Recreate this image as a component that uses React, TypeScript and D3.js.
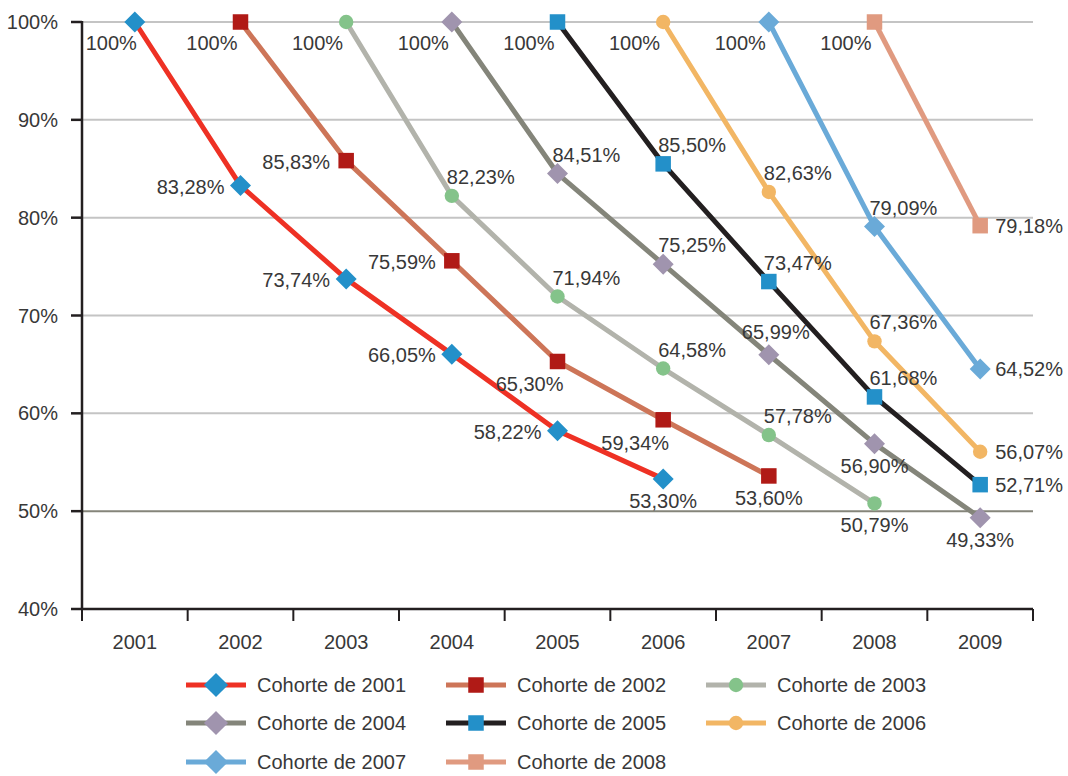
import React from "react";
import * as d3 from "d3";

const years = ["2001", "2002", "2003", "2004", "2005", "2006", "2007", "2008", "2009"];
const yTicks = [40, 50, 60, 70, 80, 90, 100];

const cohortNames = [
  "Cohorte de 2001", "Cohorte de 2002", "Cohorte de 2003", "Cohorte de 2004",
  "Cohorte de 2005", "Cohorte de 2006", "Cohorte de 2007", "Cohorte de 2008",
];
const cohortStart = ["2001", "2002", "2003", "2004", "2005", "2006", "2007", "2008"];

const c2001 = [100, 83.28, 73.74, 66.05, 58.22, 53.30];
const c2002 = [100, 85.83, 75.59, 65.30, 59.34, 53.60];
const c2003 = [100, 82.23, 71.94, 64.58, 57.78, 50.79];
const c2004 = [100, 84.51, 75.25, 65.99, 56.90, 49.33];
const c2005 = [100, 85.50, 73.47, 61.68, 52.71];
const c2006 = [100, 82.63, 67.36, 56.07];
const c2007 = [100, 79.09, 64.52];
const c2008 = [100, 79.18];
const cohortValues = [c2001, c2002, c2003, c2004, c2005, c2006, c2007, c2008];

// label placement codes per point
const p2001 = ["topFirst", "left", "left", "left", "left", "below"];
const p2002 = ["top", "left", "left", "belowLeft", "belowLeft", "below"];
const p2003 = ["top", "aboveRight", "aboveRight", "aboveRight", "aboveRight", "below"];
const p2004 = ["top", "aboveRight", "aboveRight", "aboveMid", "below", "below"];
const p2005 = ["top", "aboveRight", "aboveRight", "aboveRight", "right"];
const p2006 = ["top", "aboveRight", "aboveRight", "right"];
const p2007 = ["top", "aboveRight", "right"];
const p2008 = ["top", "right"];
const cohortPlacements = [p2001, p2002, p2003, p2004, p2005, p2006, p2007, p2008];

const lineColors = ["#ee3124", "#cd7558", "#b2b3ab", "#84857a", "#231f20", "#f2b664", "#6aaad8", "#e09a80"];
const markerColors = ["#2390c9", "#b01a16", "#84c38a", "#a094ae", "#2390c9", "#f2b664", "#6aaad8", "#e09a80"];
const markerShapes = ["diamond", "square", "circle", "diamond", "square", "circle", "diamond", "square"];

const placementStyle: Record<string, { anchor: string; dx: number; dy: number }> = {
  topFirst: { anchor: "end", dx: 2, dy: 28 },
  top: { anchor: "end", dx: -3, dy: 28 },
  left: { anchor: "end", dx: -16, dy: 8 },
  aboveRight: { anchor: "start", dx: -5, dy: -12 },
  aboveMid: { anchor: "start", dx: -27, dy: -16 },
  below: { anchor: "middle", dx: 0, dy: 29 },
  belowLeft: { anchor: "end", dx: 6, dy: 30 },
  right: { anchor: "start", dx: 15, dy: 7 },
};

const FONT = "'Liberation Sans', Arial, sans-serif";
const TEXT = "#383838";

function Marker({ shape, x, y, color, scale = 1 }: { shape: string; x: number; y: number; color: string; scale?: number }) {
  if (shape === "diamond") {
    const r = 10.5 * scale;
    return <path d={`M${x},${y - r}L${x + r},${y}L${x},${y + r}L${x - r},${y}Z`} fill={color} />;
  }
  if (shape === "square") {
    const s = 15.5 * scale;
    return <rect x={x - s / 2} y={y - s / 2} width={s} height={s} fill={color} />;
  }
  return <circle cx={x} cy={y} r={7.2 * scale} fill={color} />;
}

export default function App() {
  const W = 1068, H = 776;
  const left = 82, right = 1033, top = 22, bottom = 609;
  const x = d3.scaleBand<string>().domain(years).range([left, right]);
  const y = d3.scaleLinear().domain([40, 100]).range([bottom, top]);
  const cx = (yr: string) => (x(yr) as number) + x.bandwidth() / 2;
  const line = d3.line<[number, number]>().x((d) => d[0]).y((d) => d[1]);

  const series = cohortValues.map((vals, i) => {
    const startIdx = years.indexOf(cohortStart[i]);
    return vals.map((v, j) => [cx(years[startIdx + j]), y(v), v] as [number, number, number]);
  });

  const fmt = (v: number) => (v === 100 ? "100%" : v.toFixed(2).replace(".", ",") + "%");

  const boundaries = [...years.map((yr) => x(yr) as number), right];

  const legendCols = [186, 446, 706];
  const legendRows = [685, 723, 762];

  return (
    <svg width={W} height={H} style={{ position: "absolute", left: 0, top: 0, background: "#fff" }} fontFamily={FONT}>
      {yTicks.filter((t) => t > 40).map((t) => (
        <line key={t} x1={left} x2={right} y1={y(t)} y2={y(t)} stroke={t === 50 ? "#85857a" : "#c4c4c4"} strokeWidth={2} />
      ))}
      <line x1={left} x2={left} y1={top - 1} y2={bottom + 1} stroke="#231f20" strokeWidth={2.5} />
      {yTicks.map((t) => (
        <g key={t}>
          <line x1={71} x2={left} y1={y(t)} y2={y(t)} stroke="#231f20" strokeWidth={2.5} />
          <text x={58} y={y(t) + 7} textAnchor="end" fontSize={20} fill={TEXT}>{t}%</text>
        </g>
      ))}
      <line x1={left} x2={right} y1={bottom} y2={bottom} stroke="#231f20" strokeWidth={2.5} />
      {boundaries.map((b, i) => (
        <line key={i} x1={b} x2={b} y1={bottom} y2={bottom + 12} stroke="#231f20" strokeWidth={2} />
      ))}
      {years.map((yr) => (
        <text key={yr} x={cx(yr)} y={649} textAnchor="middle" fontSize={20} fill={TEXT}>{yr}</text>
      ))}
      {series.map((pts, i) => (
        <g key={i}>
          <path d={line(pts.map((p) => [p[0], p[1]]) as [number, number][]) || ""} fill="none" stroke={lineColors[i]} strokeWidth={5} strokeLinejoin="round" />
          {pts.map((p, j) => (
            <Marker key={j} shape={markerShapes[i]} x={p[0]} y={p[1]} color={markerColors[i]} />
          ))}
        </g>
      ))}
      {series.map((pts, i) =>
        pts.map((p, j) => {
          const st = placementStyle[cohortPlacements[i][j]];
          return (
            <text key={`${i}-${j}`} x={p[0] + st.dx} y={p[1] + st.dy} textAnchor={st.anchor} fontSize={20} fill={TEXT}>
              {fmt(p[2])}
            </text>
          );
        })
      )}
      {cohortNames.map((name, i) => {
        const lx = legendCols[i % 3];
        const ly = legendRows[Math.floor(i / 3)];
        return (
          <g key={name}>
            <line x1={lx} x2={lx + 60} y1={ly} y2={ly} stroke={lineColors[i]} strokeWidth={5} />
            <Marker shape={markerShapes[i]} x={lx + 30} y={ly} color={markerColors[i]} scale={markerShapes[i] === "diamond" ? 1.15 : 1} />
            <text x={lx + 71} y={ly + 7} fontSize={20} fill={TEXT}>{name}</text>
          </g>
        );
      })}
    </svg>
  );
}
